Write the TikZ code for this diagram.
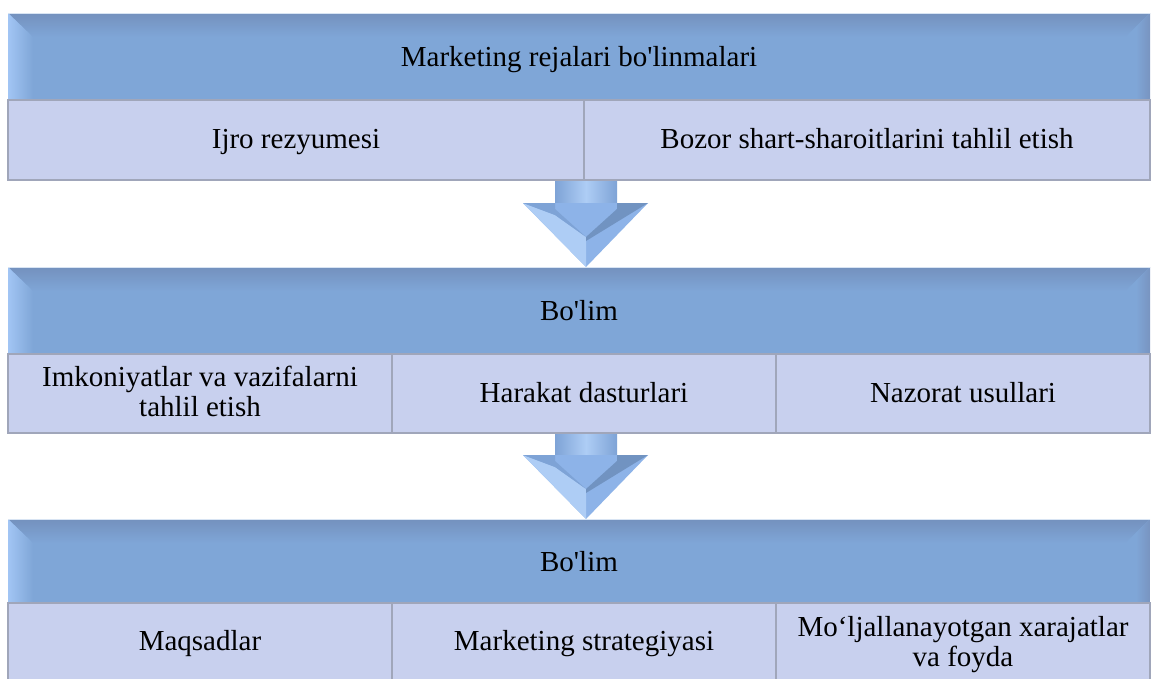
\documentclass[tikz,border=0pt]{standalone}
\usepackage{fontspec}
\newfontfamily\plainserif{Liberation Serif}
\definecolor{hdrmain}{HTML}{7FA6D7}
\definecolor{hdrtop}{HTML}{7491BE}
\definecolor{hdrleft}{HTML}{A2C5F4}
\definecolor{hdrright}{HTML}{7894C0}
\definecolor{subfill}{HTML}{C8D0EE}
\definecolor{subedge}{HTML}{A0A6BA}
\definecolor{arrmain}{HTML}{8DB3E8}
\definecolor{arrlight}{HTML}{AECDF5}
\definecolor{arrdark}{HTML}{7EA3D6}
\tikzset{
  lbl/.style={font=\plainserif\fontsize{29}{29.5}\selectfont, text=black, align=center, inner sep=0pt, anchor=base},
  subbox/.style={fill=subfill, draw=subedge, line width=1.2pt},
}
\newcommand\bandhead[4]{% x0 y0 x1 y1
  \fill[hdrmain] (#1,#2) rectangle (#3,#4);
  \shade[top color=hdrtop, bottom color=hdrmain] (#1,#2) -- (#3,#2) -- ({#3-25},{#2+24}) -- ({#1+25},{#2+24}) -- cycle;
  \shade[left color=hdrleft, right color=hdrmain] (#1,#2) -- ({#1+25},{#2+24}) -- ({#1+25},#4) -- (#1,#4) -- cycle;
  \shade[left color=hdrmain, right color=hdrright] ({#3-14},{#2+14}) -- (#3,#2) -- (#3,#4) -- ({#3-14},#4) -- cycle;
  \draw[white!70!hdrmain, line width=1.5pt] (#1,{#2+0.5}) -- (#3,{#2+0.5});
  \draw[hdrright!80!black, line width=1pt] (#1,#4) -- (#3,#4);
}
\newcommand\flowarrow[2]{% y0 ytip
  \shade[left color=arrdark, right color=arrdark, middle color=arrlight] (555,#1) rectangle (617,{#2-64});
  \fill[arrmain] (523,{#2-64}) -- (648,{#2-64}) -- (586,#2) -- cycle;
  \fill[arrlight] (523,{#2-64}) -- (586,#2) -- (586,{#2-30}) -- (555,{#2-52}) -- cycle;
  \fill[arrdark] (523,{#2-64}) -- (555,{#2-64}) -- (555,{#2-58}) -- (586,{#2-30}) -- (555,{#2-52}) -- cycle;
  \fill[arrdark!90!black] (648,{#2-64}) -- (617,{#2-64}) -- (617,{#2-58}) -- (586,{#2-30}) -- (586,{#2-26}) -- cycle;
}
\begin{document}
\begin{tikzpicture}[x=1pt,y=-1pt]
\useasboundingbox (0,0) rectangle (1152,678);
\fill[white] (0,0) rectangle (1152,678);

% Band 1
\bandhead{8}{13}{1150}{100}
\draw[subbox] (8,100) rectangle (584,180);
\draw[subbox] (584,100) rectangle (1150,180);
\node[lbl] (h1) at (579,66) {Marketing rejalari bo'linmalari};
\node[lbl] (s11) at (296,148) {Ijro rezyumesi};
\node[lbl] (s12) at (867,148) {Bozor shart-sharoitlarini tahlil etish};

% Arrow 1
\flowarrow{181}{267}

% Band 2
\bandhead{8}{267}{1150}{354}
\draw[subbox] (8,354) rectangle (392,433);
\draw[subbox] (392,354) rectangle (776,433);
\draw[subbox] (776,354) rectangle (1150,433);
\node[lbl] (h2) at (579,320) {Bo'lim};
\node[lbl] (s21) at (200,416) {Imkoniyatlar va vazifalarni\\tahlil etish};
\node[lbl] (s22) at (584,402) {Harakat dasturlari};
\node[lbl] (s23) at (963,402) {Nazorat usullari};

% Arrow 2
\flowarrow{434}{519}

% Band 3
\bandhead{8}{519}{1150}{603}
\draw[subbox] (8,603) rectangle (392,680);
\draw[subbox] (392,603) rectangle (776,680);
\draw[subbox] (776,603) rectangle (1150,680);
\node[lbl] (h3) at (579,571) {Bo'lim};
\node[lbl] (s31) at (200,650) {Maqsadlar};
\node[lbl] (s32) at (584,650) {Marketing strategiyasi};
\node[lbl] (s33) at (963,666) {Mo‘ljallanayotgan xarajatlar\\va foyda};
\end{tikzpicture}
\end{document}
